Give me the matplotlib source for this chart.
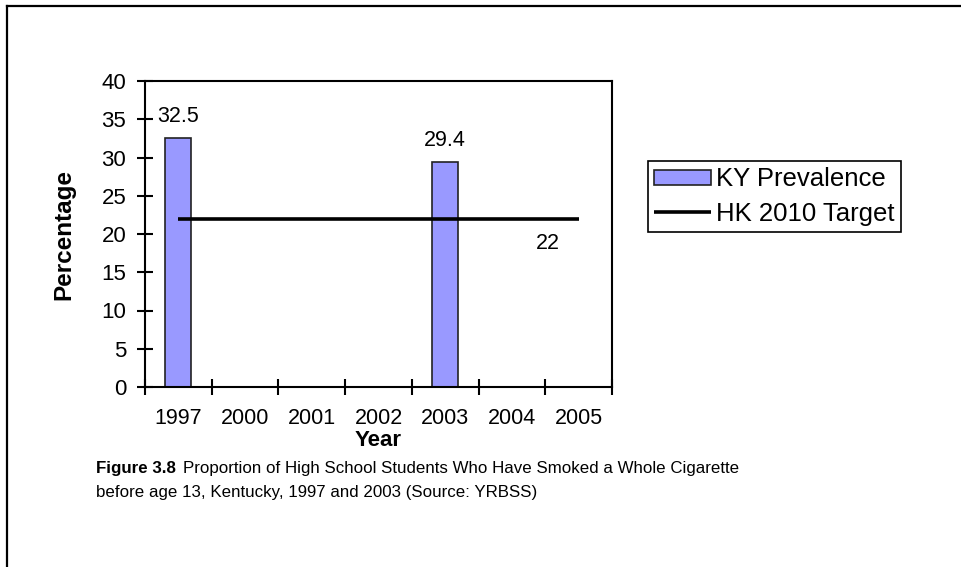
import matplotlib.pyplot as plt
from matplotlib.lines import Line2D
import numpy as np

plt.rcParams["font.family"] = ["Liberation Sans", "DejaVu Sans"]

# data
years = ["1997", "2000", "2001", "2002", "2003", "2004", "2005"]
ky_prevalence = [32.5, None, None, None, 29.4, None, None]
hk_target = [22, 22, 22, 22, 22, 22, 22]

W, H = 962, 567
fig = plt.figure(figsize=(W / 100, H / 100), dpi=100)

# outer frame (only left and top edges show in the picture)
fig.add_artist(Line2D([7 / W, 7 / W], [0, 1 - 6 / H], color="black", lw=1.6))
fig.add_artist(Line2D([7 / W, 1], [1 - 6 / H, 1 - 6 / H], color="black", lw=1.6))

ax = fig.add_axes([145 / W, 1 - 387 / H, (612 - 145) / W, (387 - 81) / H])

x = np.arange(len(years))
bar_x = [i for i, v in enumerate(ky_prevalence) if v is not None]
bar_v = [v for v in ky_prevalence if v is not None]
bars = ax.bar(bar_x, bar_v, width=0.39, color="#9999FF", edgecolor="#222222",
              linewidth=1.2, label="KY Prevalence", zorder=2)
line, = ax.plot(x, hk_target, color="black", lw=2.6, label="HK 2010 Target",
                solid_capstyle="butt", zorder=3)

# data labels
for xi, v in zip(bar_x, bar_v):
    ax.annotate(f"{v:g}", (xi, v), xytext=(0, 8), textcoords="offset points",
                ha="center", va="bottom", fontsize=15.5)
ax.annotate(f"{hk_target[-1]:g}", (x[-1], hk_target[-1]), xytext=(-22, -10),
            textcoords="offset points", ha="center", va="top", fontsize=15.5)

ax.set_xlim(-0.5, len(years) - 0.5)
ax.set_ylim(0, 40)
ax.set_yticks(range(0, 41, 5))
ax.set_xticks(x)
ax.set_xticklabels(years)
ax.set_xticks(np.arange(-0.5, len(years), 1), minor=True)
ax.tick_params(axis="x", which="major", length=0, pad=15, labelsize=15.5)
ax.tick_params(axis="x", which="minor", direction="inout", length=11, width=1.5)
ax.tick_params(axis="y", direction="inout", length=11, width=1.5, pad=8,
               labelsize=16)
for s in ax.spines.values():
    s.set_linewidth(1.5)

ax.set_ylabel("Percentage", fontsize=17.5, fontweight="bold")
ax.yaxis.set_label_coords(-0.15, 0.5)
fig.text(378 / W, 1 - 440 / H, "Year", fontsize=16, fontweight="bold",
         ha="center", va="center")

leg = ax.legend([bars, line], ["KY Prevalence", "HK 2010 Target"],
                loc="upper left", bbox_to_anchor=(648 / W, 1 - 161 / H),
                bbox_transform=fig.transFigure, fontsize=18.5, frameon=True,
                fancybox=False, edgecolor="black", framealpha=1,
                handlelength=2.2, handleheight=0.55, handletextpad=0.2,
                borderpad=0.25, labelspacing=0.4, borderaxespad=0)
leg.get_frame().set_linewidth(1.2)

# caption
fig_label = fig.text(96 / W, 1 - 468 / H, "Figure 3.8", fontsize=12.2,
                     fontweight="bold", va="center", ha="left")
ax.annotate("Proportion of High School Students Who Have Smoked a Whole Cigarette",
            xy=(1, 0.5), xycoords=fig_label, xytext=(5, 0),
            textcoords="offset points", fontsize=12.2, va="center", ha="left",
            annotation_clip=False)
fig.text(96 / W, 1 - 492 / H,
         "before age 13, Kentucky, 1997 and 2003 (Source: YRBSS)",
         fontsize=12.2, va="center", ha="left")

fig.savefig("out.png", dpi=100)
